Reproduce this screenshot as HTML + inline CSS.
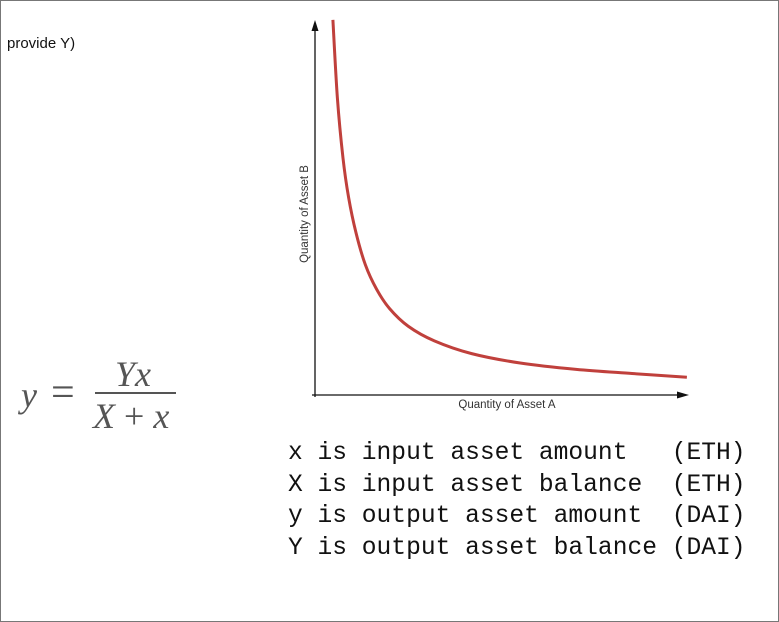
<!DOCTYPE html>
<html><head><meta charset="utf-8"><style>
html,body{margin:0;padding:0;background:#fff}
#page{position:relative;width:777px;height:620px;border:1px solid #777;overflow:hidden}
.mono{position:absolute;left:287px;font-family:"Liberation Mono",monospace;font-size:24.6px;white-space:pre;color:#111}
.f{position:absolute;font-family:"Liberation Serif",serif;font-style:italic;color:#555;font-size:36px}
</style></head><body>
<div id="page">
<div style="position:absolute;left:6px;top:34px;font:15px 'Liberation Sans',sans-serif;color:#111">provide Y)</div>
<div>
<div class="f" style="left:20px;top:373px">y</div>
<div class="f" style="left:50px;top:371px;font-style:normal;font-size:42px;line-height:42px">=</div>
<div class="f" style="left:114px;top:352px">Yx</div>
<div style="position:absolute;left:94px;top:391px;width:81px;height:2px;background:#555"></div>
<div class="f" style="left:92px;top:394px">X<span style="font-style:normal"> + </span>x</div>
</div>
<svg id="chart" width="779" height="622" style="position:absolute;left:-1px;top:-1px">
<text transform="translate(308,214) rotate(-90)" text-anchor="middle" font-family="Liberation Sans,sans-serif" font-size="11.5" fill="#333">Quantity of Asset B</text>
<text x="507" y="408" text-anchor="middle" font-family="Liberation Sans,sans-serif" font-size="11.5" fill="#333">Quantity of Asset A</text>
<line x1="315" y1="397" x2="315" y2="30" stroke="#111" stroke-width="1.3"/>
<polygon points="315,20 311.5,31 318.5,31" fill="#111"/>
<line x1="312" y1="395" x2="678" y2="395" stroke="#111" stroke-width="1.3"/>
<polygon points="689,395 677,391.5 677,398.5" fill="#111"/>
</svg>
<div class="mono" style="top:439px">x is input asset amount   (ETH)</div>
<div class="mono" style="top:471px">X is input asset balance  (ETH)</div>
<div class="mono" style="top:502px">y is output asset amount  (DAI)</div>
<div class="mono" style="top:534px">Y is output asset balance (DAI)</div>
</div>
<script>
const xValues=[4.8,6,7.5,9,11,13.5,16.5,20,25,32,42,55,70,85,99.7];
const yValues=[100.3,79.5,63.5,53,43.5,35,28.5,23.3,18.6,14.7,11.3,8.8,7.1,6.0,5.0];
function sx(v){return 315+v*3.73;}
function sy(v){return 396-v*3.75;}
const pts=xValues.map((v,i)=>[sx(v),sy(yValues[i])]);
let d='M'+pts[0][0]+','+pts[0][1];
for(let i=0;i<pts.length-1;i++){
 const p0=pts[Math.max(0,i-1)],p1=pts[i],p2=pts[i+1],p3=pts[Math.min(pts.length-1,i+2)];
 const c1=[p1[0]+(p2[0]-p0[0])/6,p1[1]+(p2[1]-p0[1])/6];
 const c2=[p2[0]-(p3[0]-p1[0])/6,p2[1]-(p3[1]-p1[1])/6];
 d+=' C'+c1+' '+c2+' '+p2;
}
const path=document.createElementNS('http://www.w3.org/2000/svg','path');
path.setAttribute('d',d);path.setAttribute('fill','none');path.setAttribute('stroke','#c0403c');path.setAttribute('stroke-width','3');


document.getElementById('chart').appendChild(path);
</script>
</body></html>
